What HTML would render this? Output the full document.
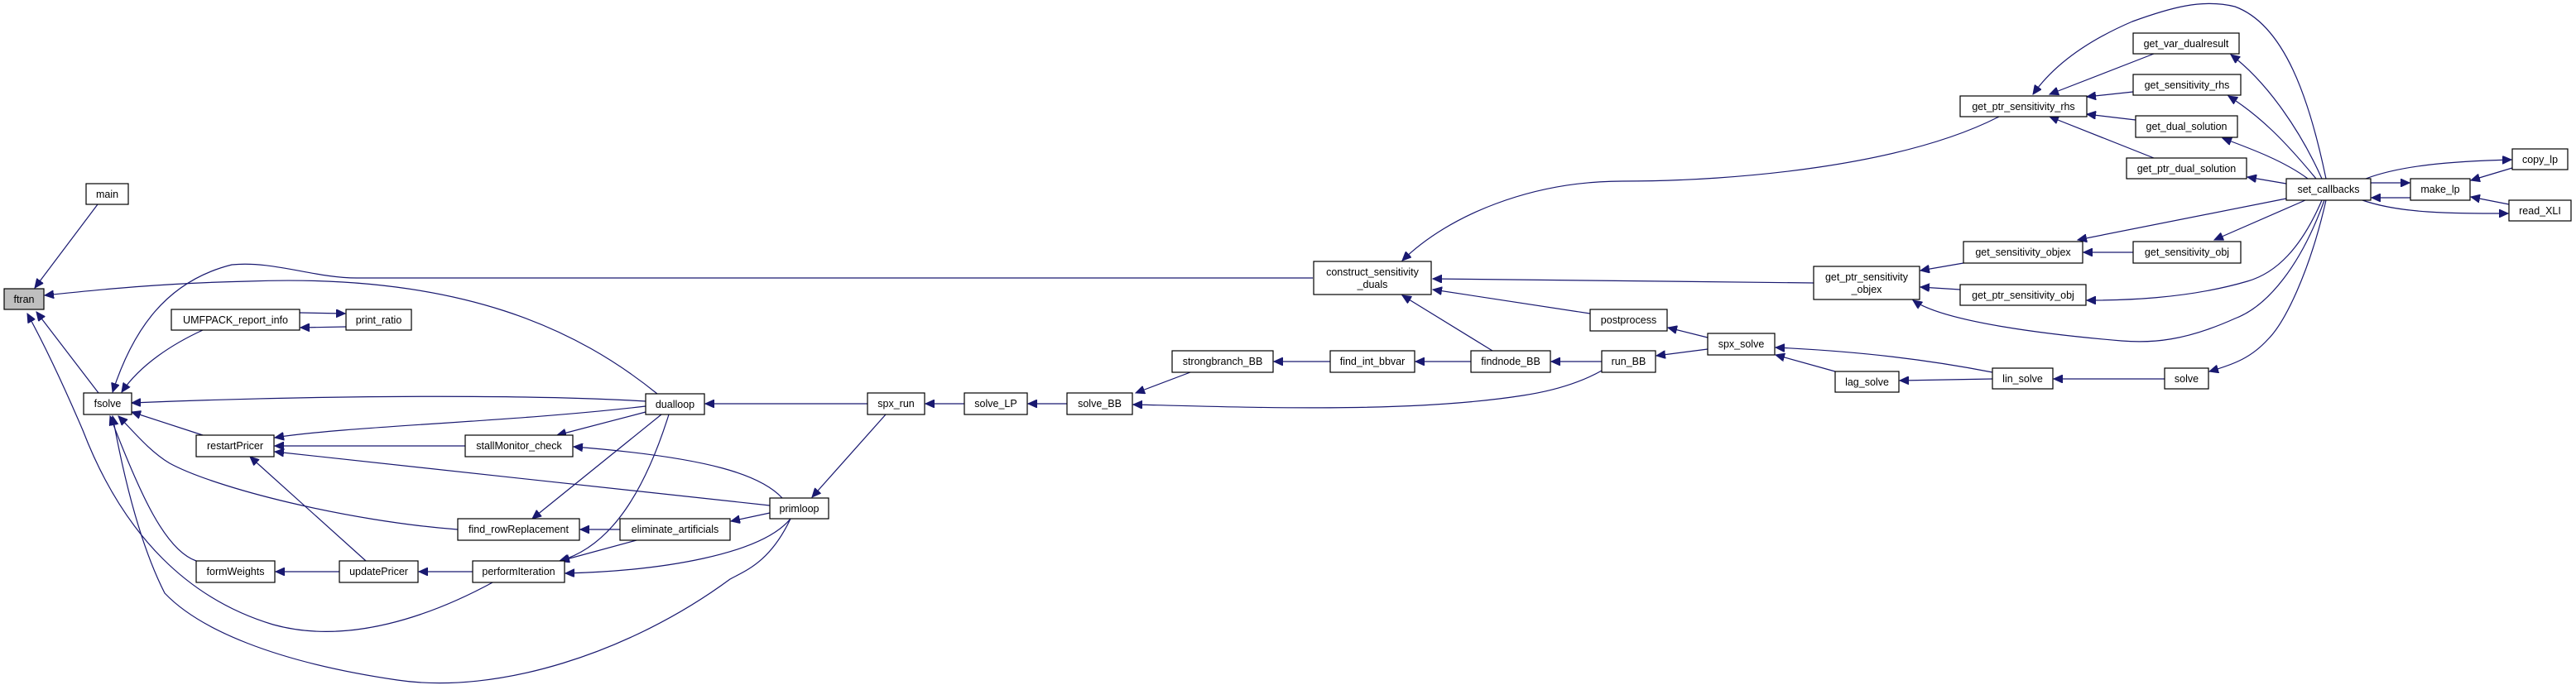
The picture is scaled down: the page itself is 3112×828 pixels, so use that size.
<!DOCTYPE html>
<html><head><meta charset="utf-8"><style>
html,body{margin:0;padding:0;background:#fff;}
svg{display:block;}
text{font-family:"Liberation Sans",Arial,sans-serif;font-size:12.5px;fill:#000;text-anchor:middle;}
.n{fill:#fff;stroke:#000;stroke-width:1.2;}
.e{fill:none;stroke:#191970;stroke-width:1.2;}
</style></head><body>
<svg width="3112" height="828" viewBox="0 0 3112 828" xmlns="http://www.w3.org/2000/svg">
<defs>
<marker id="a" markerUnits="userSpaceOnUse" markerWidth="12" markerHeight="10" refX="11" refY="5" orient="auto">
<path d="M0,0 L11,5 L0,10 z" fill="#191970" stroke="#191970"/>
</marker>
</defs>
<g class="e" marker-end="url(#a)">
<!-- left cluster -->
<path d="M118,247 L42,348"/>
<path d="M119,475 L44,377"/>
<path d="M794,476 C700,400 560,330 300,340 C200,342 120,350 54,357"/>
<path d="M1586,336 L431,336 C380,336 330,315 280,320 C200,340 160,400 136,474"/>
<path d="M245,399 C210,415 170,440 147,474"/>
<path d="M362,378 L417,379"/>
<path d="M418,395 L363,396"/>
<path d="M780,485 C650,477 400,477 159,487"/>
<path d="M245,526 L159,498"/>
<path d="M553,640 C420,630 260,590 205,560 C180,545 160,520 143,503"/>
<path d="M237,678 C200,665 170,600 133,503"/>
<path d="M955,627 C930,680 900,690 882,700 C760,790 600,840 480,822 C330,800 240,760 199,717 C170,660 150,580 136,503"/>
<path d="M597,703 C520,745 420,780 330,755 C230,725 150,650 100,520 C70,450 50,410 33,379"/>
<path d="M780,491 C620,510 420,515 332,529"/>
<path d="M562,539 L332,539"/>
<path d="M930,611 L332,546"/>
<path d="M442,678 L302,552"/>
<path d="M780,498 L673,526"/>
<path d="M945,602 C920,575 860,553 693,540"/>
<path d="M799,501 L643,627"/>
<path d="M749,640 L701,640"/>
<path d="M930,620 L883,630"/>
<path d="M808,501 C780,590 740,660 676,678"/>
<path d="M769,653 L677,678"/>
<path d="M955,627 C920,670 800,690 683,693"/>
<path d="M410,691 L333,691"/>
<path d="M571,691 L506,691"/>
<!-- middle -->
<path d="M1048,488 L852,488"/>
<path d="M1070,501 L981,601"/>
<path d="M1165,488 L1118,488"/>
<path d="M1289,488 L1242,488"/>
<path d="M1438,450 L1372,475"/>
<path d="M1935,448 C1910,462 1880,472 1840,478 C1700,500 1500,492 1369,489"/>
<path d="M1607,437 L1539,437"/>
<path d="M1777,437 L1710,437"/>
<path d="M1935,437 L1874,437"/>
<path d="M1803,424 L1694,357"/>
<path d="M1921,379 L1731,350"/>
<path d="M2191,342 L1731,337"/>
<path d="M2415,141 C2300,200 2100,219 1960,219 C1850,219 1750,260 1694,315"/>
<path d="M2063,422 L2001,430"/>
<path d="M2063,408 L2015,396"/>
<!-- right -->
<path d="M2217,449 L2145,429"/>
<path d="M2407,450 C2330,435 2250,425 2145,420"/>
<path d="M2407,458 L2295,460"/>
<path d="M2615,458 L2481,458"/>
<path d="M2810,242 C2790,330 2760,390 2740,410 C2720,432 2700,440 2669,449"/>
<path d="M2372,318 L2320,327"/>
<path d="M2368,350 L2320,347"/>
<path d="M2808,242 C2780,320 2740,370 2700,385 C2640,412 2600,415 2563,412 C2480,405 2350,390 2311,363"/>
<path d="M2762,240 L2510,290"/>
<path d="M2577,305 L2517,305"/>
<path d="M2785,242 L2675,290"/>
<path d="M2805,242 C2780,300 2750,330 2715,340 C2640,362 2560,363 2521,363"/>
<path d="M2602,65 L2476,114"/>
<path d="M2577,111 L2521,117"/>
<path d="M2580,145 L2521,138"/>
<path d="M2602,191 L2476,141"/>
<path d="M2810,216 C2790,120 2760,30 2700,8 C2660,-2 2620,10 2576,26 C2520,50 2480,80 2456,114"/>
<path d="M2805,216 C2780,160 2740,100 2695,66"/>
<path d="M2798,216 C2760,170 2730,140 2692,116"/>
<path d="M2788,216 C2760,195 2720,180 2685,167"/>
<path d="M2762,222 L2715,214"/>
<path d="M2864,221 L2911,221"/>
<path d="M2912,239 L2865,239"/>
<path d="M2858,216 C2900,200 2960,195 3034,193"/>
<path d="M3035,203 L2985,218"/>
<path d="M3031,247 L2985,238"/>
<path d="M2854,242 C2900,258 2960,258 3030,258"/>
</g>
<g>
<rect class="n" x="104" y="222" width="51" height="25"/><text x="129.5" y="239">main</text>
<rect x="5" y="349" width="48" height="25" fill="#bfbfbf" stroke="#000" stroke-width="1.2"/><text x="29" y="366">ftran</text>
<rect class="n" x="207" y="374" width="155" height="25"/><text x="284.5" y="391">UMFPACK_report_info</text>
<rect class="n" x="418" y="374" width="79" height="25"/><text x="457.5" y="391">print_ratio</text>
<rect class="n" x="101" y="475" width="58" height="26"/><text x="130" y="492">fsolve</text>
<rect class="n" x="237" y="526" width="94" height="26"/><text x="284" y="543">restartPricer</text>
<rect class="n" x="562" y="526" width="130" height="26"/><text x="627" y="543">stallMonitor_check</text>
<rect class="n" x="780" y="476" width="71" height="25"/><text x="815.5" y="493">dualloop</text>
<rect class="n" x="930" y="602" width="71" height="25"/><text x="965.5" y="619">primloop</text>
<rect class="n" x="553" y="627" width="147" height="26"/><text x="626.5" y="644">find_rowReplacement</text>
<rect class="n" x="749" y="627" width="133" height="26"/><text x="815.5" y="644">eliminate_artificials</text>
<rect class="n" x="237" y="678" width="95" height="26"/><text x="284.5" y="695">formWeights</text>
<rect class="n" x="410" y="678" width="95" height="26"/><text x="457.5" y="695">updatePricer</text>
<rect class="n" x="571" y="678" width="111" height="26"/><text x="626.5" y="695">performIteration</text>
<rect class="n" x="1048" y="475" width="69" height="26"/><text x="1082.5" y="492">spx_run</text>
<rect class="n" x="1165" y="475" width="76" height="26"/><text x="1203" y="492">solve_LP</text>
<rect class="n" x="1289" y="475" width="79" height="26"/><text x="1328.5" y="492">solve_BB</text>
<rect class="n" x="1416" y="424" width="122" height="26"/><text x="1477" y="441">strongbranch_BB</text>
<rect class="n" x="1607" y="424" width="102" height="26"/><text x="1658" y="441">find_int_bbvar</text>
<rect class="n" x="1777" y="424" width="96" height="26"/><text x="1825" y="441">findnode_BB</text>
<rect class="n" x="1935" y="424" width="65" height="26"/><text x="1967.5" y="441">run_BB</text>
<rect class="n" x="1587" y="316" width="142" height="40"/><text x="1658" y="333">construct_sensitivity</text><text x="1658" y="348">_duals</text>
<rect class="n" x="1921" y="374" width="93" height="26"/><text x="1967.5" y="391">postprocess</text>
<rect class="n" x="2063" y="403" width="81" height="26"/><text x="2103.5" y="420">spx_solve</text>
<rect class="n" x="2217" y="449" width="77" height="25"/><text x="2255.5" y="466">lag_solve</text>
<rect class="n" x="2407" y="445" width="73" height="25"/><text x="2443.5" y="462">lin_solve</text>
<rect class="n" x="2615" y="445" width="53" height="25"/><text x="2641.5" y="462">solve</text>
<rect class="n" x="2368" y="116" width="153" height="25"/><text x="2444.5" y="133">get_ptr_sensitivity_rhs</text>
<rect class="n" x="2577" y="40" width="128" height="25"/><text x="2641" y="57">get_var_dualresult</text>
<rect class="n" x="2577" y="90" width="130" height="25"/><text x="2642" y="107">get_sensitivity_rhs</text>
<rect class="n" x="2580" y="140" width="123" height="26"/><text x="2641.5" y="157">get_dual_solution</text>
<rect class="n" x="2569" y="191" width="145" height="25"/><text x="2641.5" y="208">get_ptr_dual_solution</text>
<rect class="n" x="2762" y="216" width="102" height="26"/><text x="2813" y="233">set_callbacks</text>
<rect class="n" x="2912" y="216" width="72" height="26"/><text x="2948" y="233">make_lp</text>
<rect class="n" x="3035" y="180" width="67" height="25"/><text x="3068.5" y="197">copy_lp</text>
<rect class="n" x="3031" y="242" width="75" height="25"/><text x="3068.5" y="259">read_XLI</text>
<rect class="n" x="2372" y="292" width="144" height="26"/><text x="2444" y="309">get_sensitivity_objex</text>
<rect class="n" x="2577" y="292" width="130" height="26"/><text x="2642" y="309">get_sensitivity_obj</text>
<rect class="n" x="2191" y="322" width="128" height="40"/><text x="2255" y="339">get_ptr_sensitivity</text><text x="2255" y="354">_objex</text>
<rect class="n" x="2368" y="344" width="152" height="25"/><text x="2444" y="361">get_ptr_sensitivity_obj</text>
</g>
</svg>
</body></html>
